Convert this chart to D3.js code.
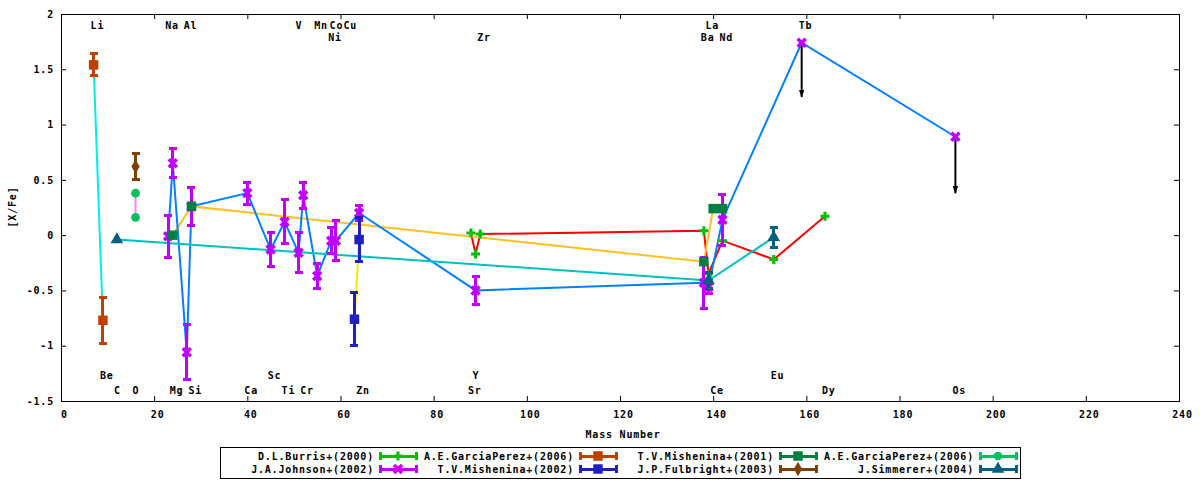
<!DOCTYPE html>
<html>
<head>
<meta charset="utf-8">
<script src="https://cdn.jsdelivr.net/npm/d3@7"></script>
<style>
body { margin: 0; background: #fff; }
text { font-family: "DejaVu Sans Mono", monospace; font-weight: bold; font-size: 10px; letter-spacing: 0.8px; fill: #000; }
</style>
</head>
<body>
<svg id="chart" width="1200" height="480"></svg>
<script>
// axis ticks
var xTicks = [0, 20, 40, 60, 80, 100, 120, 140, 160, 180, 200, 220, 240];
var yTicks = [-1.5, -1, -0.5, 0, 0.5, 1, 1.5, 2];

// legend names, in legend order (row by row)
var seriesNames = ["D.L.Burris+(2000)", "A.E.GarciaPerez+(2006)", "T.V.Mishenina+(2001)", "A.E.GarciaPerez+(2006)",
                   "J.A.Johnson+(2002)", "T.V.Mishenina+(2002)", "J.P.Fulbright+(2003)", "J.Simmerer+(2004)"];

// [mass number, [X/Fe], error]
var burris       = [[88, 0.02, 0], [89, -0.17, 0], [90, 0.01, 0], [138, 0.04, 0], [139, -0.35, 0], [142, -0.05, 0], [153, -0.22, 0], [164, 0.17, 0]];
var garciaLiBe   = [[7, 1.54, 0.1], [9, -0.77, 0.21]];
var mishenina01  = [[24, 0.0, 0], [28, 0.26, 0], [138, -0.24, 0], [140, 0.24, 0], [142, 0.24, 0]];
var garciaO      = [[16, 0.38, 0], [16, 0.16, 0]];
var johnson      = [[23, -0.01, 0.19], [24, 0.65, 0.13], [27, -1.06, 0.25], [28, 0.26, 0.17], [40, 0.38, 0.1],
                    [45, -0.13, 0.15], [48, 0.12, 0.2], [51, -0.16, 0.18], [52, 0.36, 0.12], [55, -0.37, 0.11],
                    [58, -0.05, 0.12], [59, -0.05, 0.18], [64, 0.2, 0.07], [89, -0.5, 0.13], [138, -0.43, 0.23],
                    [139, -0.47, 0.06], [142, 0.14, 0.23], [159, 1.74, 0], [192, 0.89, 0]];
var mishenina02  = [[63, -0.76, 0.24], [64, -0.04, 0.2]];
var fulbright    = [[16, 0.62, 0.12]];
var simmerer     = [[12, -0.04, 0], [139, -0.41, 0.07], [153, -0.02, 0.09]];

// upper limits (Johnson): [mass, value, arrow end]
var upperLimits = [[159, 1.74, 1.25], [192, 0.89, 0.38]];

// element labels [symbol, mass]
var labelsTop1 = [["Li", 7], ["Na", 23], ["Al", 27], ["V", 51], ["Mn", 55], ["Co", 58.3], ["Cu", 61.3], ["La", 139], ["Tb", 159]];
var labelsTop2 = [["Ni", 58], ["Zr", 90], ["Ba", 138], ["Nd", 142]];
var labelsBot1 = [["Be", 9], ["Sc", 45], ["Y", 89], ["Eu", 153]];
var labelsBot2 = [["C", 12], ["O", 16], ["Mg", 24], ["Si", 28], ["Ca", 40], ["Ti", 48], ["Cr", 52], ["Zn", 64],
                  ["Sr", 88], ["Ce", 140], ["Dy", 164], ["Os", 192]];

var series = [
  {name: seriesNames[0], data: burris,      point: "#00c000", line: "#ff0000", shape: "plus"},
  {name: seriesNames[1], data: garciaLiBe,  point: "#c04000", line: "#00eeee", shape: "square"},
  {name: seriesNames[2], data: mishenina01, point: "#008040", line: "#ffc020", shape: "square"},
  {name: seriesNames[3], data: garciaO,     point: "#00c060", line: "#ff80ff", shape: "circle"},
  {name: seriesNames[4], data: johnson,     point: "#c000ff", line: "#0080ff", shape: "x"},
  {name: seriesNames[5], data: mishenina02, point: "#2020c0", line: "#eeee00", shape: "square"},
  {name: seriesNames[6], data: fulbright,   point: "#804000", line: "#a080ff", shape: "diamond"},
  {name: seriesNames[7], data: simmerer,    point: "#006080", line: "#00c0c0", shape: "triangle"}
];
// points drawn in plot order (key filled column by column)
var drawOrder = [0, 4, 1, 5, 2, 6, 3, 7];

var svg = d3.select("#chart");
var x = d3.scaleLinear().domain([0, 240]).range([61, 1179]);
var y = d3.scaleLinear().domain([-1.5, 2]).range([401, 14]);

function symbolPath(shape) {
  if (shape == "plus") return d3.symbol(d3.symbolCross, 45)();
  if (shape == "square") return d3.symbol(d3.symbolSquare, 90)();
  if (shape == "circle") return d3.symbol(d3.symbolCircle, 60)();
  if (shape == "diamond") return d3.symbol(d3.symbolDiamond, 60)();
  if (shape == "triangle") return d3.symbol(d3.symbolTriangle, 70)();
  return "M-4,-4L4,4M-4,4L4,-4";
}
function drawMarker(g, shape, color, px, py) {
  var p = g.append("path").attr("d", symbolPath(shape)).attr("transform", "translate(" + px + "," + py + ")");
  if (shape == "x") p.attr("fill", "none").attr("stroke", color).attr("stroke-width", 3.5);
  else p.attr("fill", color);
}

svg.append("defs").append("marker")
  .attr("id", "arrow").attr("viewBox", "0 0 10 7").attr("refX", 9).attr("refY", 3.5)
  .attr("markerWidth", 4).attr("markerHeight", 2.8).attr("orient", "auto")
  .append("path").attr("d", "M0,0L10,3.5L0,7z").attr("fill", "#000");

// axes with inward ticks, mirrored
svg.append("g").attr("transform", "translate(0,401)")
  .call(d3.axisBottom(x).tickValues(xTicks).tickSizeInner(-5).tickSizeOuter(0).tickPadding(10).tickFormat(d3.format("d")))
  .call(function(g) { g.select(".domain").remove(); g.selectAll("text").attr("dx", 3); });
svg.append("g").attr("transform", "translate(0,14)")
  .call(d3.axisTop(x).tickValues(xTicks).tickSizeInner(-5).tickSizeOuter(0).tickFormat(""))
  .call(function(g) { g.select(".domain").remove(); });
svg.append("g").attr("transform", "translate(61,0)")
  .call(d3.axisLeft(y).tickValues(yTicks).tickSizeInner(-5).tickSizeOuter(0).tickPadding(7).tickFormat(function(d) { return String(d); }))
  .call(function(g) { g.select(".domain").remove(); });
svg.append("g").attr("transform", "translate(1179,0)")
  .call(d3.axisRight(y).tickValues(yTicks).tickSizeInner(-5).tickSizeOuter(0).tickFormat(""))
  .call(function(g) { g.select(".domain").remove(); });

svg.append("rect").attr("x", 61).attr("y", 14).attr("width", 1118).attr("height", 387)
  .attr("fill", "none").attr("stroke", "#000").attr("shape-rendering", "crispEdges");

svg.append("text").attr("x", 623).attr("y", 438).attr("text-anchor", "middle").text("Mass Number");
svg.append("text").attr("transform", "translate(16,207) rotate(-90)").attr("text-anchor", "middle").text("[X/Fe]");

// element labels: first character centred on the mass
function labelRow(rows, cy) {
  svg.append("g").selectAll("text").data(rows).join("text")
    .attr("x", function(d) { return x(d[1]) - 3; })
    .attr("y", cy + 4)
    .text(function(d) { return d[0]; });
}
labelRow(labelsTop1, 25);
labelRow(labelsTop2, 37);
labelRow(labelsBot1, 375);
labelRow(labelsBot2, 390);

// connecting lines
var line = d3.line().x(function(d) { return x(d[0]); }).y(function(d) { return y(d[1]); });
var lines = svg.append("g");
series.forEach(function(s) {
  if (s.data.length < 2) return;
  lines.append("path").datum(s.data).attr("d", line)
    .attr("fill", "none").attr("stroke", s.line).attr("stroke-width", 2);
});

// upper limit arrows
svg.append("g").selectAll("line").data(upperLimits).join("line")
  .attr("x1", function(d) { return x(d[0]); }).attr("x2", function(d) { return x(d[0]); })
  .attr("y1", function(d) { return y(d[1]); }).attr("y2", function(d) { return y(d[2]); })
  .attr("stroke", "#000").attr("stroke-width", 2).attr("marker-end", "url(#arrow)");

// error bars and points
drawOrder.forEach(function(i) {
  var s = series[i];
  var g = svg.append("g");
  g.selectAll("path.bar").data(s.data.filter(function(d) { return d[2] > 0; })).join("path")
    .attr("class", "bar")
    .attr("d", function(d) {
      var px = x(d[0]), y0 = y(d[1] - d[2]), y1 = y(d[1] + d[2]);
      return "M" + px + "," + y0 + "V" + y1 + "M" + (px - 4) + "," + y0 + "H" + (px + 4) + "M" + (px - 4) + "," + y1 + "H" + (px + 4);
    })
    .attr("fill", "none").attr("stroke", s.point).attr("stroke-width", 3).attr("shape-rendering", "crispEdges");
  s.data.forEach(function(d) { drawMarker(g, s.shape, s.point, x(d[0]), y(d[1])); });
});

// key
var key = svg.append("g");
key.append("rect").attr("x", 220).attr("y", 447).attr("width", 800).attr("height", 31)
  .attr("fill", "#fff").attr("stroke", "#000").attr("shape-rendering", "crispEdges");
series.forEach(function(s, i) {
  var x0 = 220 + 200 * (i % 4), cy = 456 + 13 * Math.floor(i / 4);
  var a = x0 + 160, b = x0 + 196;
  key.append("text").attr("x", x0 + 154).attr("y", cy + 4).attr("text-anchor", "end").text(s.name);
  key.append("path")
    .attr("d", "M" + a + "," + cy + "H" + b + "M" + a + "," + (cy - 4) + "V" + (cy + 4) + "M" + b + "," + (cy - 4) + "V" + (cy + 4))
    .attr("fill", "none").attr("stroke", s.point).attr("stroke-width", 3).attr("shape-rendering", "crispEdges");
  drawMarker(key, s.shape, s.point, (a + b) / 2, cy);
});
</script>
</body>
</html>
